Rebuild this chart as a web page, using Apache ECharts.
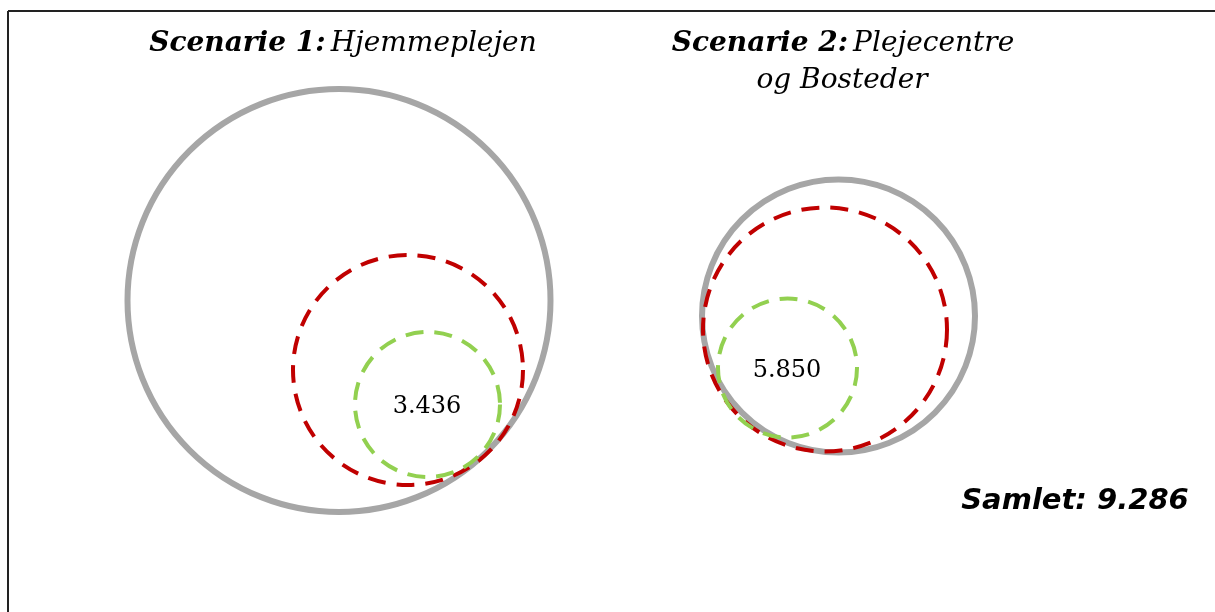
<!DOCTYPE html>
<html>
<head>
<meta charset="utf-8">
<script src="https://cdn.jsdelivr.net/npm/echarts@6/dist/echarts.min.js"></script>
<style>
html,body{margin:0;padding:0;background:#fff;}
#chart{width:1215px;height:612px;}
</style>
</head>
<body>
<div id="chart"></div>
<script>
// Scenario labels
const scenarioBold = ['Scenarie 1:', 'Scenarie 2:'];
const scenarioNames = ['Hjemmeplejen', 'Plejecentre'];
const scenarioSecondLine = ['', 'og Bosteder'];
const scenarioValues = ['3.436', '5.850'];
const totalLabel = 'Samlet: 9.286';

// Circles in chart units (x, y, radius) — one array per ring kind
const grayCircles  = [[339, 300.5, 211.5], [838.5, 316, 136.5]];
const redCircles   = [[408, 370, 115], [825, 329.5, 122]];
const greenCircles = [[427.5, 404.5, 72.5], [787.5, 368, 69.5]];
const valuePoints  = [[427, 407], [787, 371]];

const chart = echarts.init(document.getElementById('chart'));

function circleSeries(data, color, width, dash, z) {
  return {
    type: 'custom',
    coordinateSystem: 'cartesian2d',
    data: data,
    z: z,
    silent: true,
    renderItem: function (params, api) {
      const c = api.coord([api.value(0), api.value(1)]);
      const r = api.size([api.value(2), api.value(2)])[0];
      return {
        type: 'circle',
        shape: {cx: c[0], cy: c[1], r: r},
        style: {fill: 'none', stroke: color, lineWidth: width, lineDash: dash}
      };
    }
  };
}

const serifRich = {
  b: {fontFamily: 'DejaVu Serif', fontWeight: 'bold', fontStyle: 'italic', fontSize: 28, color: '#000'},
  i: {fontFamily: 'DejaVu Serif', fontWeight: 'normal', fontStyle: 'italic', fontSize: 28, color: '#000'}
};

const option = {
  backgroundColor: '#fff',
  animation: false,
  grid: {left: 0, right: 0, top: 0, bottom: 0},
  xAxis: {type: 'value', min: 0, max: 1215, show: false},
  yAxis: {type: 'value', min: 0, max: 612, inverse: true, show: false},
  title: [
    {
      text: '{b|' + scenarioBold[0] + '} {i|' + scenarioNames[0] + '}',
      left: 338, top: 25, textAlign: 'center',
      textStyle: {fontWeight: 'normal', rich: serifRich}
    },
    {
      text: '{b|' + scenarioBold[1] + '} {i|' + scenarioNames[1] + '}',
      left: 838, top: 25, textAlign: 'center',
      textStyle: {fontWeight: 'normal', rich: serifRich}
    },
    {
      text: '{i|' + scenarioSecondLine[1] + '}',
      left: 837, top: 62, textAlign: 'center',
      textStyle: {fontWeight: 'normal', rich: serifRich}
    },
    {
      text: totalLabel,
      left: 1070, top: 482, textAlign: 'center',
      textStyle: {fontFamily: 'DejaVu Sans', fontWeight: 'bold', fontStyle: 'italic', fontSize: 29, color: '#000'}
    }
  ],
  graphic: [
    {type: 'line', shape: {x1: 8, y1: 11, x2: 1215, y2: 11}, style: {stroke: '#222', lineWidth: 2}},
    {type: 'line', shape: {x1: 8, y1: 11, x2: 8, y2: 612}, style: {stroke: '#222', lineWidth: 2}}
  ],
  series: [
    circleSeries(grayCircles, '#A6A6A6', 6, null, 1),
    circleSeries(redCircles, '#C00000', 4, [18, 11], 2),
    circleSeries(greenCircles, '#92D050', 4, [18, 11], 3),
    {
      type: 'custom',
      coordinateSystem: 'cartesian2d',
      data: valuePoints,
      z: 4,
      silent: true,
      renderItem: function (params, api) {
        const c = api.coord([api.value(0), api.value(1)]);
        return {
          type: 'text',
          x: c[0], y: c[1],
          style: {
            text: scenarioValues[params.dataIndex],
            fill: '#000',
            font: '24px "DejaVu Serif"',
            align: 'center',
            verticalAlign: 'middle'
          }
        };
      }
    }
  ]
};
chart.setOption(option);
</script>
</body>
</html>
